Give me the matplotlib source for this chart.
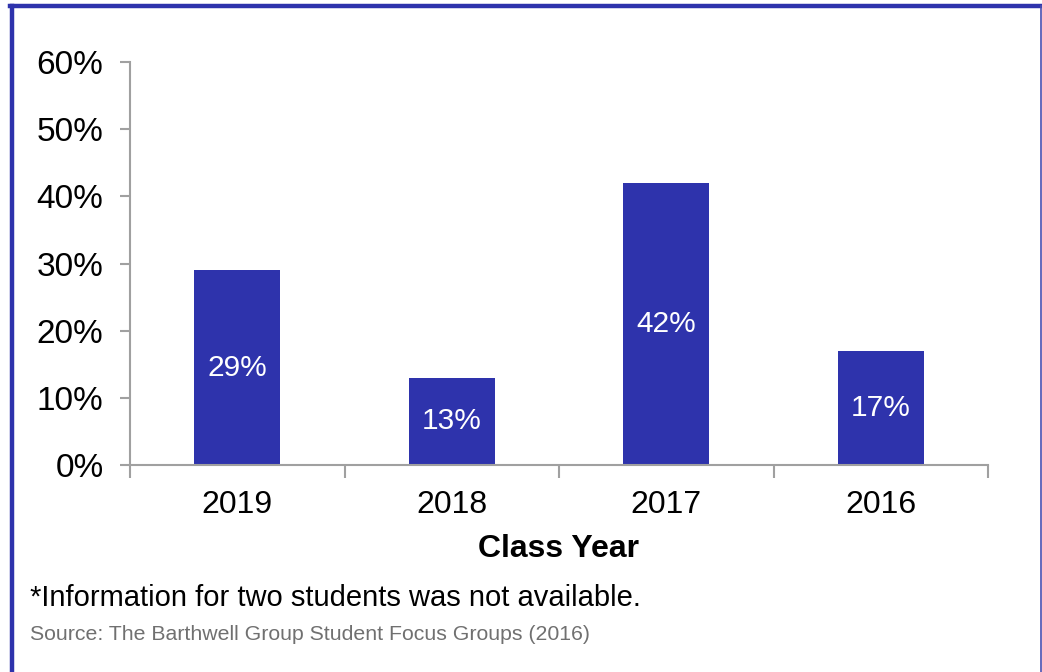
import matplotlib.pyplot as plt
from matplotlib.lines import Line2D

plt.rcParams['font.family'] = ['Liberation Sans', 'DejaVu Sans']

# survey shares by class year
years = ['2019', '2018', '2017', '2016']
shares = [29, 13, 42, 17]
y_ticks = [0, 10, 20, 30, 40, 50, 60]

bar_color = '#2E33AC'
axis_color = '#A0A0A0'

fig = plt.figure(figsize=(10.42, 6.72), dpi=100)
ax = fig.add_axes([130 / 1042, 1 - 465 / 672, 858 / 1042, 403 / 672])

x = range(len(years))
bars = ax.bar(x, shares, width=0.4, color=bar_color, zorder=2)
for rect, val in zip(bars, shares):
    ax.text(rect.get_x() + rect.get_width() / 2, val / 2, f'{val}%',
            ha='center', va='center', color='white', fontsize=21.5)

ax.set_xlim(-0.5, len(years) - 0.5)
ax.set_ylim(0, 60)
ax.set_yticks(y_ticks)
ax.set_yticklabels([f'{t}%' for t in y_ticks], fontsize=24)
ax.set_xticks(list(x))
ax.set_xticklabels(years, fontsize=23)
ax.set_xticks([i - 0.5 for i in range(len(years) + 1)], minor=True)
ax.tick_params(axis='x', which='major', length=0, pad=18)
ax.tick_params(axis='x', which='minor', length=9, width=1.5, color=axis_color)
ax.tick_params(axis='y', length=7, width=1.5, color=axis_color, pad=12)
ax.set_xlabel('Class Year', fontsize=23, fontweight='bold', labelpad=10)

for side in ['top', 'right']:
    ax.spines[side].set_visible(False)
for side in ['left', 'bottom']:
    ax.spines[side].set_color(axis_color)
    ax.spines[side].set_linewidth(1.5)

fig.text(30 / 1042, 1 - 598 / 672, '*Information for two students was not available.',
         fontsize=21, va='center', ha='left', color='black')
fig.text(30 / 1042, 1 - 634 / 672, 'Source: The Barthwell Group Student Focus Groups (2016)',
         fontsize=15.3, va='center', ha='left', color='#707070')

# frame around the panel
fig.add_artist(Line2D([12 / 1042, 12 / 1042], [0, 1 - 6 / 672], color=bar_color,
                      lw=3.2, transform=fig.transFigure))
fig.add_artist(Line2D([10 / 1042, 1], [1 - 6 / 672, 1 - 6 / 672], color=bar_color,
                      lw=3.2, transform=fig.transFigure))
fig.add_artist(Line2D([1041 / 1042, 1041 / 1042], [0, 1 - 6 / 672], color='#4A4FB0',
                      lw=1.2, transform=fig.transFigure))

fig.savefig('out.png', dpi=100)
